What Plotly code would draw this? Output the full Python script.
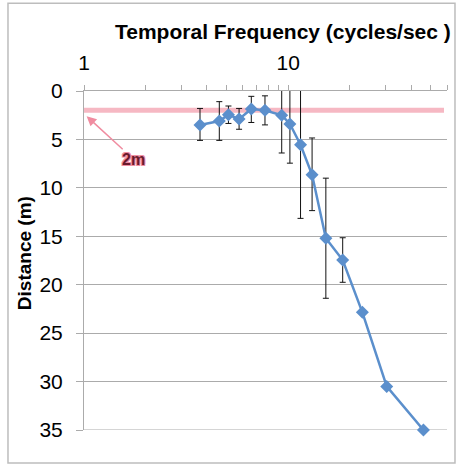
import math
import plotly.graph_objects as go

# ---- data ----
freq = [3.7, 4.6, 5.1, 5.75, 6.6, 7.7, 9.3, 10.2, 11.5, 13.1, 15.3, 18.5, 23.1, 30.4, 46.0]
dist = [3.5, 3.1, 2.45, 2.9, 1.85, 2.0, 2.5, 3.4, 5.55, 8.65, 15.2, 17.45, 22.85, 30.5, 35.0]
err_plus = [1.6, 2.0, 0.9, 1.05, 1.4, 1.5, 3.9, 4.05, 7.6, 3.7, 6.2, 2.3]
err_minus = [1.7, 2.0, 0.9, 1.1, 1.3, 1.5, 3.9, 4.05, 7.6, 3.8, 6.2, 2.3]
n_err = len(err_plus)

threshold_m = 2
threshold_span = [1, 58]
threshold_label = "2m"
arrow_target = (1.03, 2.6)

x_tick_vals = [1, 10]
x_minor_vals = [2, 3, 4, 5, 6, 7, 8, 9, 20, 30, 40, 50, 60]
x_range = [1, 60]
y_ticks = [0, 5, 10, 15, 20, 25, 30, 35]
y_range = [35, 0]

FONT = "Liberation Sans, Arial, Helvetica, sans-serif"
GRID = "#ABABAB"

fig = go.Figure()

# threshold line
fig.add_trace(go.Scatter(
    x=threshold_span, y=[threshold_m, threshold_m], mode="lines",
    line=dict(color="#F6B8C3", width=5), hoverinfo="skip", showlegend=False))

# error bars
fig.add_trace(go.Scatter(
    x=freq[:n_err], y=dist[:n_err], mode="markers",
    marker=dict(size=1, opacity=0),
    error_y=dict(type="data", array=err_plus, arrayminus=err_minus,
                 symmetric=False, color="#111111", thickness=1, width=3),
    showlegend=False, hoverinfo="skip"))

# main line
fig.add_trace(go.Scatter(
    x=freq, y=dist, mode="lines+markers",
    line=dict(color="#5B8FCC", width=2.5),
    marker=dict(symbol="diamond", size=10, color="#5B8FCC"),
    showlegend=False, cliponaxis=False))

fig.update_layout(
    width=461, height=465,
    margin=dict(l=84, r=14, t=91, b=35),
    paper_bgcolor="white", plot_bgcolor="white",
    font=dict(family=FONT, color="black"),
    xaxis=dict(
        type="log", side="top", automargin=False,
        range=[math.log10(x_range[0]), math.log10(x_range[1])],
        tickvals=x_tick_vals, ticktext=[str(v) for v in x_tick_vals],
        ticks="outside", ticklen=5, tickcolor=GRID, tickwidth=1,
        minor=dict(tickvals=x_minor_vals, ticks="outside", ticklen=5,
                   tickcolor=GRID, tickwidth=1, showgrid=False),
        showgrid=False, zeroline=False,
        showline=True, linecolor=GRID, linewidth=1,
        tickfont=dict(size=21, family=FONT),
        ticklabelstandoff=7,
    ),
    yaxis=dict(
        range=y_range, tickvals=y_ticks, automargin=False,
        showgrid=True, gridcolor=GRID, gridwidth=1,
        zeroline=False,
        showline=True, linecolor=GRID, linewidth=1,
        ticks="outside", ticklen=7, tickcolor=GRID,
        tickfont=dict(size=21, family=FONT),
        ticklabelstandoff=9,
    ),
    shapes=[
        dict(type="rect", xref="paper", yref="paper",
             x0=-0.2094, x1=1.022, y0=-0.0973, y1=1.2587,
             line=dict(color="#BDBDBD", width=1.5), fillcolor="rgba(0,0,0,0)",
             layer="below"),
        dict(type="line", xref="paper", yref="y", x0=0, x1=1,
             y0=y_ticks[-1], y1=y_ticks[-1],
             line=dict(color=GRID, width=1), layer="below"),
    ],
    annotations=[
        dict(text="<b>Temporal Frequency (cycles/sec )</b>", xref="paper", yref="paper",
             x=0.547, y=1.175, showarrow=False, xanchor="center", yanchor="middle",
             font=dict(size=21, family=FONT)),
        dict(text="<b>Distance (m)</b>", xref="paper", yref="paper",
             x=-0.165, y=0.522, showarrow=False, textangle=-90,
             xanchor="center", yanchor="middle",
             font=dict(size=19, family=FONT)),
        dict(text="<b>" + threshold_label + "</b>", x=math.log10(arrow_target[0]), y=arrow_target[1],
             xref="x", yref="y", showarrow=True, ax=47, ay=43,
             arrowhead=2, arrowsize=1.3, arrowwidth=1.5, arrowcolor="#F08CA0",
             font=dict(size=16, family=FONT, color="#6A1A2C",
                       shadow="-1px -1px 0 #F08CA0, 1px -1px 0 #F08CA0, -1px 1px 0 #F08CA0, 1px 1px 0 #F08CA0, 0 0 1px #F08CA0")),
    ],
)

fig.write_html("out.html", config={"displayModeBar": False},
               post_script="document.body.style.margin='0';")
